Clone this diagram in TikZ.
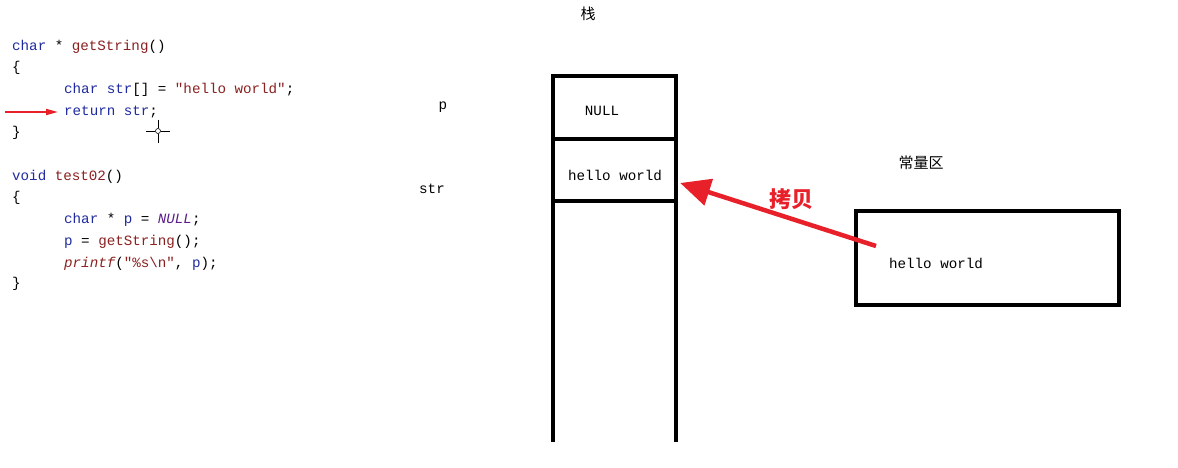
\documentclass[tikz,border=0pt]{standalone}
\usepackage{fontspec}
\usetikzlibrary{arrows.meta}
\newfontfamily\codefont{Liberation Mono}
\newfontfamily\cjk{Noto Sans CJK SC}
\definecolor{kw}{HTML}{1F2A9E}
\definecolor{fn}{HTML}{8A2020}
\definecolor{nul}{HTML}{5A1A8A}
\definecolor{arrowred}{HTML}{E8202A}
\begin{document}
\begin{tikzpicture}[x=1pt,y=-1pt,
  code/.style={anchor=west,inner sep=0pt,font=\codefont\fontsize{14.2}{16}\selectfont},
  mono/.style={inner sep=0pt,font=\codefont\fontsize{14.2}{16}\selectfont},
  cjklabel/.style={inner sep=0pt,font=\cjk\fontsize{15}{17}\selectfont},
  frame/.style={line width=4.5pt},
  cell/.style={minimum width=123pt,inner sep=0pt}]
\useasboundingbox (0,0) rectangle (1178,468);
% code
\node[code] (c1) at (12,47) {\textcolor{kw}{char} * \textcolor{fn}{getString}()};
\node[code] (c2) at (12,68) {\{};
\node[code] (c3) at (64,90) {\textcolor{kw}{char str}[] = \textcolor{fn}{"hello world"};};
\node[code] (c4) at (64,112) {\textcolor{kw}{return str};};
\node[code] (c5) at (12,133) {\}};
\node[code] (c6) at (12,177) {\textcolor{kw}{void} \textcolor{fn}{test02}()};
\node[code] (c7) at (12,198) {\{};
\node[code] (c8) at (64,220) {\textcolor{kw}{char} * \textcolor{kw}{p} = \textcolor{nul}{\itshape NULL};};
\node[code] (c9) at (64,242) {\textcolor{kw}{p} = \textcolor{fn}{getString}();};
\node[code] (c10) at (64,264) {\textcolor{fn}{\itshape printf}(\textcolor{fn}{"\%s\textbackslash n"}, \textcolor{kw}{p});};
\node[code] (c11) at (12,284) {\}};
% small red pointer
\coordinate (ptr) at (5,112);
\draw[arrowred,line width=1.8pt,-{Triangle[length=12pt,width=6pt]}] (ptr) -- ([xshift=-6pt]c4.west);
% cursor crosshair
\node[draw,circle,minimum size=5pt,inner sep=0pt,line width=0.6pt] (cur) at (158,131) {};
\draw[line width=0.6pt] (146,131) -- (cur.west) (cur.east) -- (170,131) (158,120) -- (cur.north) (cur.south) -- (158,143);
% stack
\node[cjklabel] (stk) at (588,14) {栈};
\node[mono] (p) at (443,107) {p};
\node[mono] (str) at (432,189) {str};
\node[cell,minimum height=63pt] (nullcell) at (614.5,107.5) {};
\node[mono] (nulltxt) at (602,111) {NULL};
\node[cell,minimum height=62pt] (hwcell) at (614.5,170) {};
\node[mono] (hwtxt) at (615,175) {hello world};
\draw[frame] (553,442) -- (553,76) -- (676,76) -- (676,442);
\draw[frame] (553,139) -- (676,139);
\draw[frame] (553,201) -- (676,201);
% constant area
\node[cjklabel] (cst) at (921,163) {常量区};
\node[draw,frame,minimum width=263pt,minimum height=94pt,inner sep=0pt] (cbox) at (987.5,258) {};
\node[mono] (chw) at (936,263) {hello world};
% copy arrow
\coordinate (src) at (876,246);
\draw[arrowred,line width=4.5pt,-{Triangle[length=30pt,width=27pt]}] (src) -- ([xshift=4pt,yshift=-13pt]hwcell.east);
\node[cjklabel,text=arrowred,font=\cjk\bfseries\fontsize{22}{24}\selectfont] (copy) at (791,199) {拷贝};
\end{tikzpicture}
\end{document}
